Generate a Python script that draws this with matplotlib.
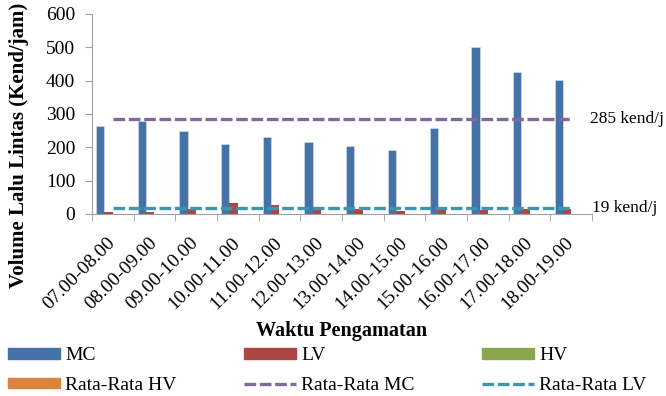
import numpy as np
import matplotlib.pyplot as plt
import matplotlib.transforms as mtransforms
from matplotlib.patches import Patch
from matplotlib.lines import Line2D

plt.rcParams["font.family"] = ["Liberation Serif", "DejaVu Serif"]

# data
waktu = ["07.00-08.00", "08.00-09.00", "09.00-10.00", "10.00-11.00",
         "11.00-12.00", "12.00-13.00", "13.00-14.00", "14.00-15.00",
         "15.00-16.00", "16.00-17.00", "17.00-18.00", "18.00-19.00"]
mc = [263, 278, 248, 210, 230, 215, 205, 193, 258, 500, 425, 403]
lv = [6, 5, 14, 32, 28, 17, 15, 8, 15, 11, 15, 14]
hv = [0, 0, 0, 0, 0, 0, 0, 0, 0, 0, 0, 0]
rata_hv = [0, 0, 0, 0, 0, 0, 0, 0, 0, 0, 0, 0]
rata_mc = 285
rata_lv = 19

c_mc = "#4572A7"
c_lv = "#AA4643"
c_hv = "#89A54E"
c_rhv = "#DB843D"
c_rmc = "#80699B"
c_rlv = "#3D96AE"
dash = (0, (3.5, 1.1))

fig = plt.figure(figsize=(6.66, 3.96), dpi=100)
ax = fig.add_axes([0.138, 0.46, 0.751, 0.505])

x = np.arange(len(waktu))
w = 0.2
ax.bar(x - 1.5 * w, mc, w, color=c_mc, edgecolor="#dde6f0", linewidth=0.4, zorder=2)
ax.bar(x - 0.5 * w, lv, w, color=c_lv, zorder=2)
ax.bar(x + 0.5 * w, hv, w, color=c_hv, zorder=2)
ax.bar(x + 1.5 * w, rata_hv, w, color=c_rhv, zorder=2)

ax.plot([x[0], x[-1]], [rata_mc, rata_mc], color=c_rmc, lw=2.4, ls=dash, zorder=3)
ax.plot([x[0], x[-1]], [rata_lv, rata_lv], color=c_rlv, lw=2.4, ls=dash, zorder=3)

trans = mtransforms.blended_transform_factory(ax.transAxes, ax.transData)
ax.text(0.996, rata_mc, "285 kend/j", transform=trans, fontsize=12.5, va="center", ha="left")
ax.text(1.0, rata_lv, "19 kend/j", transform=trans, fontsize=12.5, va="center", ha="left")

ax.set_xlim(-0.5, len(waktu) - 0.5)
ax.set_ylim(0, 600)
ax.set_yticks(range(0, 601, 100))
ax.set_xticks(x)
ax.set_xticklabels(waktu, rotation=45, ha="right", va="center",
                   rotation_mode="anchor", fontsize=14)
ax.tick_params(axis="x", length=0, pad=19)
ax.set_xticks(np.arange(-0.5, len(waktu)), minor=True)
ax.tick_params(axis="x", which="minor", length=5, color="#a0a0a0", direction="out")
ax.tick_params(axis="y", labelsize=14, length=5, pad=7, color="#a0a0a0", direction="out")

for side in ["top", "right"]:
    ax.spines[side].set_visible(False)
for side in ["left", "bottom"]:
    ax.spines[side].set_color("#a0a0a0")

ax.set_ylabel("Volume Lalu Lintas (Kend/jam)", fontsize=15, fontweight="bold")
ax.yaxis.set_label_coords(-0.125, 0.34)
ax.set_xlabel("Waktu Pengamatan", fontsize=14.5, fontweight="bold")
ax.xaxis.set_label_coords(0.5, -0.535)

handles = [
    Patch(color=c_mc, label="MC"),
    Patch(color=c_rhv, label="Rata-Rata HV"),
    Patch(color=c_lv, label="LV"),
    Line2D([], [], color=c_rmc, lw=2.4, ls=dash, label="Rata-Rata MC"),
    Patch(color=c_hv, label="HV"),
    Line2D([], [], color=c_rlv, lw=2.4, ls=dash, label="Rata-Rata LV"),
]
fig.legend(handles=handles, ncol=3, loc="center left", bbox_to_anchor=(0.012, 0.064),
           frameon=False, fontsize=14, handlelength=2.7, handleheight=0.45,
           handletextpad=0.25, columnspacing=3.45, labelspacing=0.65,
           borderpad=0, borderaxespad=0)

fig.savefig("out.png", dpi=100)
